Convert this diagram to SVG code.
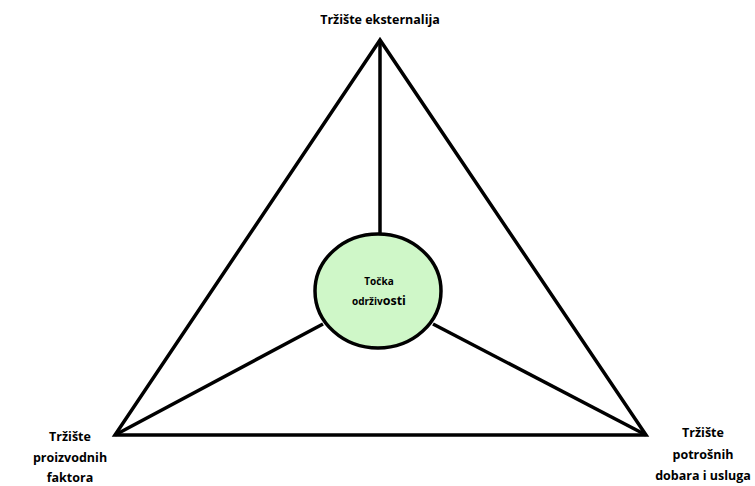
<svg xmlns="http://www.w3.org/2000/svg" width="755" height="486" viewBox="0 0 755 486">
<style>
.ln{stroke:#000;stroke-width:3.5;fill:none;stroke-linejoin:miter}
.t{font-family:"Open Sans","Liberation Sans",sans-serif;font-weight:bold;font-size:12.5px;fill:#000;text-anchor:middle}
.s{font-size:10px}
</style>
<rect width="755" height="486" fill="#fff"/>
<g id="connectors">
<polygon class="ln" points="380,40 115,435 646,435"/>
<line class="ln" x1="380" y1="40" x2="380" y2="234"/>
<line class="ln" x1="115" y1="435" x2="323" y2="324"/>
<line class="ln" x1="646" y1="435" x2="433" y2="324"/>
</g>
<g id="center">
<ellipse cx="378" cy="291" rx="63" ry="57" fill="#cff7c8" stroke="#000" stroke-width="3.5"/>
<text class="t s" x="379" y="285">Točka</text>
<text class="t" x="379" y="305"><tspan class="s">održiv</tspan>osti</text>
</g>
<g id="top"><text class="t" x="380" y="24">Tržište eksternalija</text></g>
<g id="left"><text class="t" x="70" y="441">Tržište</text><text class="t" x="70" y="462">proizvodnih</text><text class="t" x="70" y="482">faktora</text></g>
<g id="right"><text class="t" x="703" y="437">Tržište</text><text class="t" x="703" y="459">potrošnih</text><text class="t" x="703" y="480">dobara i usluga</text></g>
</svg>
